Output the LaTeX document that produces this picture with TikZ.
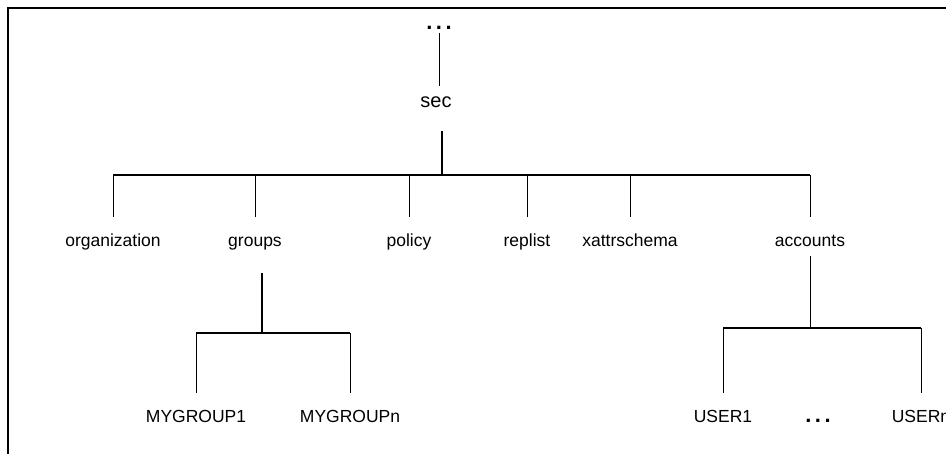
\documentclass[tikz,border=0pt]{standalone}
\usepackage{fontspec}
\setmainfont{Liberation Sans}
\usetikzlibrary{positioning}
\tikzset{
  dir/.style={font=\fontsize{17.5}{20}\selectfont, inner sep=0, text height=13pt, text depth=4pt, outer ysep=17pt, anchor=base},
  root/.style={font=\fontsize{20}{24}\selectfont, inner sep=0, anchor=base},
  dots/.style={font=\fontsize{22}{24}\selectfont\bfseries, inner sep=0, anchor=base},
  stem/.style={line width=2pt},
  bar/.style={line width=1.4pt},
  frame/.style={line width=2pt}
}
\newcommand*{\gap}{\hspace{3.5pt}}

\begin{document}
\begin{tikzpicture}[x=1pt, y=-1pt, line width=1pt]
  \useasboundingbox (0,0) rectangle (946,454);

  % Frame
  \draw[frame] (8,454) -- (8,8) -- (946,8);

  % Root
  \node[dots] (up) at (439,30) {.\gap.\gap.};
  \node[root] (sec) at (436,108) {sec};
  \draw[shorten <=3pt, shorten >=10.5pt] (up.south) -- (up.south |- sec.north);

  % First level
  \node[dir] (org) at (113,247) {organization};
  \node[dir] (grp) at (255,247) {groups};
  \node[dir] (pol) at (409,247) {policy};
  \node[dir] (rep) at (527,247) {replist};
  \node[dir] (xat) at (630,247) {xattrschema};
  \node[dir] (acc) at (810,247) {accounts};
  \coordinate (top) at (442,175);
  \draw[stem, shorten <=22pt] (top |- sec.south) -- (top);
  \draw[bar] (org.north |- top) -- (acc.north |- top);
  \foreach \n in {org,grp,pol,rep,xat,acc}
    \draw (\n.north |- top) -- (\n.north);

  % Groups
  \node[dir] (g1) at (196,423) {MYGROUP1};
  \node[dir] (gn) at (350,423) {MYGROUPn};
  \coordinate (gbar) at (262,333);
  \draw[stem, shorten <=5pt] (gbar |- grp.south) -- (gbar);
  \draw[bar] (g1.north |- gbar) -- (gn.north |- gbar);
  \foreach \n in {g1,gn}
    \draw (\n.north |- gbar) -- (\n.north);

  % Accounts
  \node[dir] (u1) at (723,423) {USER1};
  \node[dots] (ud) at (818,423) {.\gap.\gap.};
  \node[dir] (un) at (921,423) {USERn};
  \coordinate (abar) at (810,328);
  \draw[shorten <=-12pt] (acc.south) -- (acc.south |- abar);
  \draw[bar] (u1.north |- abar) -- (un.north |- abar);
  \foreach \n in {u1,un}
    \draw (\n.north |- abar) -- (\n.north);
\end{tikzpicture}
\end{document}
